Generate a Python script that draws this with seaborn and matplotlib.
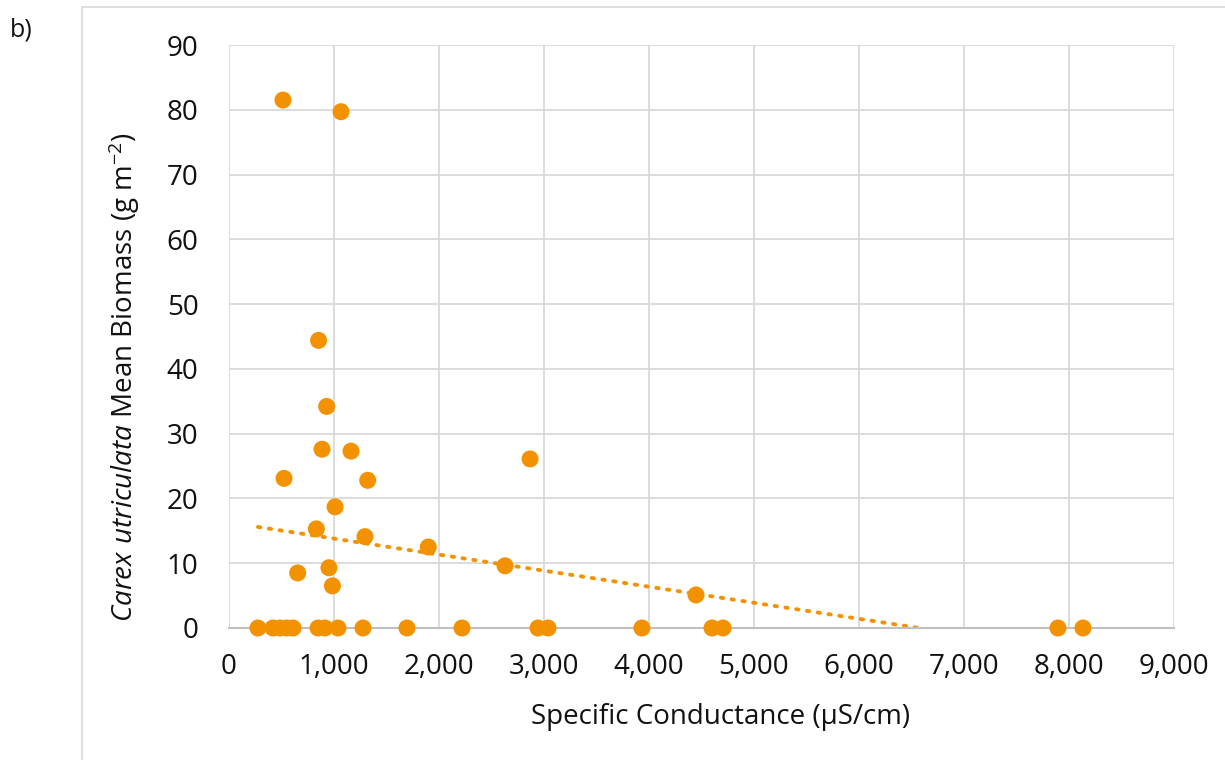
import numpy as np
import pandas as pd
import matplotlib
matplotlib.use("Agg")
import matplotlib.pyplot as plt
import seaborn as sns
from matplotlib.patches import Rectangle

# Data
conductance = [276, 419, 486, 552, 610, 848, 914, 1038, 1276, 1695, 2219, 2943, 3038,
               3933, 4600, 4705, 7895, 8133,
               853, 930, 886, 1162, 524, 1321, 1010, 832, 1295, 1898, 654, 952, 985,
               514, 1067, 2867, 2629, 4448]
biomass = [0, 0, 0, 0, 0, 0, 0, 0, 0, 0, 0, 0, 0,
           0, 0, 0, 0, 0,
           44.4, 34.2, 27.6, 27.3, 23.1, 22.8, 18.7, 15.3, 14.1, 12.5, 8.5, 9.3, 6.5,
           81.5, 79.7, 26.1, 9.6, 5.1]
x_ticks = list(range(0, 9001, 1000))
y_ticks = list(range(0, 91, 10))

# linear trendline as shown in the chart
trend_slope = -0.002477
trend_intercept = 16.28

df = pd.DataFrame({"x": conductance, "y": biomass})

sns.set_theme(style="white")
plt.rcParams['font.family'] = ['Open Sans', 'DejaVu Sans']
plt.rcParams['mathtext.fontset'] = 'custom'
plt.rcParams['mathtext.rm'] = 'Open Sans'
plt.rcParams['mathtext.it'] = 'Open Sans:italic'
plt.rcParams['text.color'] = '#111111'
plt.rcParams['axes.labelcolor'] = '#111111'
plt.rcParams['xtick.color'] = '#111111'
plt.rcParams['ytick.color'] = '#111111'

W, H = 1225, 760
fig = plt.figure(figsize=(W / 100, H / 100), dpi=100)
ax = fig.add_axes([229 / W, 1 - 628 / H, (1174 - 229) / W, (628 - 45) / H])

# outer chart frame
fig.patches.append(Rectangle((82 / W, -0.05), 1.2, 1 - 7 / H + 0.05, transform=fig.transFigure,
                             fill=False, edgecolor="#d9d9d9", linewidth=1.2, zorder=0))
fig.text(10 / W, 1 - 30 / H, "b)", fontsize=18, ha="left", va="center")

color = "#F39200"

trend_df = pd.DataFrame({"x": np.linspace(min(conductance), max(conductance), 400)})
trend_df["y"] = trend_slope * trend_df["x"] + trend_intercept
trend_df = trend_df[trend_df["y"] >= 0]
ax.plot(trend_df["x"], trend_df["y"], linestyle=(0, (0.6, 2.2)), color=color, linewidth=2.8,
        dash_capstyle="round", zorder=2)

sns.scatterplot(data=df, x="x", y="y", ax=ax, color=color, s=150, edgecolor="none",
                zorder=3, clip_on=False)

ax.set_xlim(0, 9000)
ax.set_ylim(0, 90)
ax.set_xticks(x_ticks)
ax.set_yticks(y_ticks)
ax.set_xticklabels([f"{v:,}" for v in x_ticks])
ax.set_yticklabels([str(v) for v in y_ticks])
ax.tick_params(axis="both", labelsize=20, length=0)
ax.tick_params(axis="x", pad=18)
ax.tick_params(axis="y", pad=22)
ax.grid(True, color="#d9d9d9", linewidth=1.3)
ax.set_axisbelow(True)
for s in ["top", "right", "left"]:
    ax.spines[s].set_visible(False)
ax.spines["bottom"].set_color("#bfbfbf")
ax.spines["bottom"].set_linewidth(1.5)

ax.set_xlabel("Specific Conductance (µS/cm)", fontsize=20, va="center")
ax.xaxis.set_label_coords((721 - 229) / 945, (628 - 717) / 583)
ax.set_ylabel(r"$\mathit{Carex\ utriculata}$ Mean Biomass (g m$^{-2}$)", fontsize=20, va="center")
ax.yaxis.set_label_coords((124 - 229) / 945, (628 - 377) / 583)

fig.savefig("out.png", dpi=100)
